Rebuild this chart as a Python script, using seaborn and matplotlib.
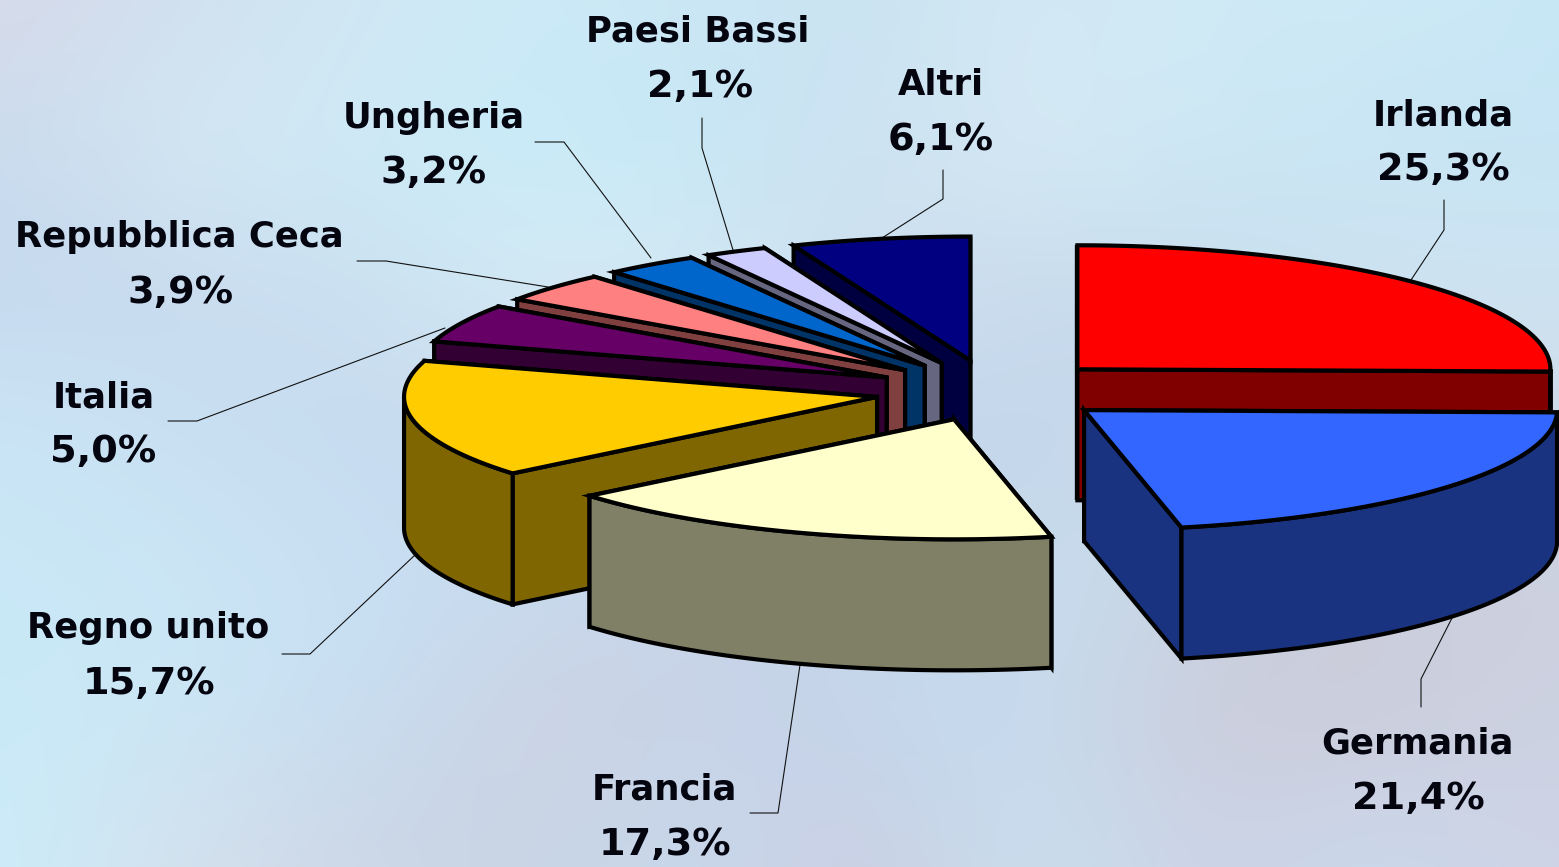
import numpy as np
import seaborn as sns
import matplotlib
matplotlib.use("Agg")
import matplotlib.pyplot as plt
from matplotlib.patches import Polygon
from matplotlib.colors import to_rgb

paesi = ["Irlanda", "Germania", "Francia", "Regno unito", "Italia",
         "Repubblica Ceca", "Ungheria", "Paesi Bassi", "Altri"]
quote = [25.3, 21.4, 17.3, 15.7, 5.0, 3.9, 3.2, 2.1, 6.1]
colori = ["#FF0000", "#3366FF", "#FFFFCC", "#FFCC00", "#660066",
          "#FF8080", "#0066CC", "#CCCCFF", "#000080"]

# pie geometry in pixels
CX, CY = 993, 391
RX, RY, RY_FRONT = 473, 124, 120
H = 131
EXPLODE = 0.25

# name x, value x, name baseline, value baseline
label_pos = [(1443, 1443, 125, 180), (1417, 1418, 753, 809), (664, 665, 799, 855),
             (148, 149, 638, 694), (104, 103, 407, 462), (179, 181, 247, 303),
             (434, 434, 128, 183), (698, 700, 42, 97), (941, 941, 95, 150)]
leaders = [[(1444, 200), (1444, 230), (1411, 280)],
           [(1421, 707), (1421, 679), (1452, 618)],
           [(750, 813), (778, 813), (800, 665)],
           [(282, 654), (310, 654), (415, 555)],
           [(168, 421), (197, 421), (445, 328)],
           [(357, 261), (386, 261), (548, 287)],
           [(535, 142), (564, 142), (651, 258)],
           [(702, 118), (702, 148), (733, 250)],
           [(943, 170), (943, 199), (882, 238)]]

# blurred photo behind the chart
sfondo = [
    ["#D8DAEA", "#CFE0EF", "#D2E8F4", "#CBEAF7", "#CCE6F4", "#C9E3F2", "#D4E8F4", "#CFEAF6", "#CFEAF7", "#C8E8F6"],
    ["#C8DCEE", "#D6EAF4", "#CEEAF7", "#C8ECF9", "#C6E8F6", "#CCE0F0", "#D8ECF5", "#CDE8F5", "#C8E4F3", "#C6E4F4"],
    ["#C6D8EE", "#C8DAEE", "#CAE0F0", "#D8ECF5", "#D6EAF4", "#CFE0EF", "#C8DAEC", "#C6DCEE", "#CFE4F2", "#CFE4F2"],
    ["#CBE6F6", "#C8DFF2", "#C6DAEE", "#C8D8EE", "#C6D8EC", "#C4D8EE", "#C4D6EA", "#C8D8EA", "#CCD6E6", "#CEDAE8"],
    ["#C8E8F6", "#CCE6F5", "#C9E0F4", "#C8DCF0", "#C8D4E8", "#C6D4E8", "#C8E0F0", "#C8D4E4", "#CBCCDA", "#CDD0DE"],
    ["#CAEAF8", "#CCE6F5", "#C6DEF2", "#CDD2E2", "#C8D2E6", "#C4D6EC", "#C6DCF0", "#CCCCD9", "#CCCCD9", "#CCD2E2"],
    ["#CCECF9", "#D6E0EC", "#CDD6E6", "#C8D4E4", "#C8DAEE", "#CCCCE0", "#C8E2F0", "#CDD2E6", "#C9DAEE", "#CFD4E6"],
]

sns.set_theme(style="white")
plt.rcParams["font.family"] = ["DejaVu Sans"]

fig, ax = plt.subplots(figsize=(15.59, 8.67), dpi=100)
fig.subplots_adjust(0, 0, 1, 1)
ax.axis("off")

griglia = np.array([[to_rgb(c) for c in riga] for riga in sfondo])
ax.imshow(griglia, extent=(-60, 1619, 927, -60), interpolation="bicubic", aspect="auto", zorder=0)
ax.set_xlim(0, 1559)
ax.set_ylim(867, 0)

palette = sns.color_palette(colori)


def ring(theta, cx, cy):
    c = np.cos(theta)
    return cx + RX * np.sin(theta), cy - np.where(c < 0, RY_FRONT, RY) * c


def draw_face(xs, ys, color, z):
    pts = np.column_stack([np.r_[xs, xs[::-1]], np.r_[ys, ys[::-1] + H]])
    ax.add_patch(Polygon(pts, closed=True, fc=color, ec="black", lw=3, joinstyle="miter", zorder=z))


fine = np.cumsum(quote) / sum(quote) * 2 * np.pi
inizio = np.r_[0, fine[:-1]]
wedges = []
for i in range(len(quote)):
    mid = (inizio[i] + fine[i]) / 2
    ax_x, ax_y = ring(mid, 0, 0)
    wedges.append((CY + EXPLODE * ax_y, CX + EXPLODE * ax_x, i))

# back slices first
z = 2
for ay, ax0, i in sorted(wedges):
    top = palette[i]
    side = tuple(c * 0.5 for c in top)
    t0, t1 = inizio[i], fine[i]
    faces = []
    for t in (t0, t1):
        ex, ey = ring(t, ax0, ay)
        faces.append((ey, np.array([ax0, ex]), np.array([ay, ey])))
    for _, xs, ys in sorted(faces, key=lambda f: f[0]):
        draw_face(xs, ys, side, z)
        z += 1
    # outer wall only where it faces the viewer
    a0, a1 = max(t0, np.pi / 2), min(t1, 3 * np.pi / 2)
    if a1 > a0:
        tt = np.linspace(a0, a1, 120)
        xs, ys = ring(tt, ax0, ay)
        draw_face(xs, ys, side, z)
        z += 1
    tt = np.linspace(t0, t1, 160)
    xs, ys = ring(tt, ax0, ay)
    pts = np.column_stack([np.r_[ax0, xs], np.r_[ay, ys]])
    ax.add_patch(Polygon(pts, closed=True, fc=top, ec="black", lw=3, joinstyle="miter", zorder=z))
    z += 1

for linea in leaders:
    lx, ly = zip(*linea)
    ax.plot(lx, ly, color="#111111", lw=0.8, zorder=1, solid_joinstyle="miter")

for nome, val, (x1, x2, y1, y2) in zip(paesi, quote, label_pos):
    testo = f"{val:.1f}".replace(".", ",") + "%"
    ax.text(x1, y1, nome, ha="center", va="baseline", fontsize=25.5, fontweight="bold", color="#050510", zorder=100)
    ax.text(x2, y2, testo, ha="center", va="baseline", fontsize=27.5, fontweight="bold", color="#050510", zorder=100)

fig.savefig("out.png", dpi=100)
